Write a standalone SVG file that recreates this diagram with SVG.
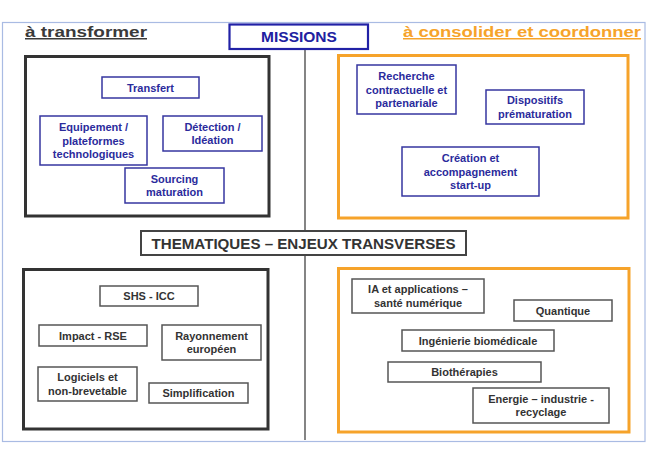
<svg xmlns="http://www.w3.org/2000/svg" width="648" height="464" viewBox="0 0 648 464">
<style>
text{font-family:"Liberation Sans",Arial,sans-serif;font-weight:bold;text-anchor:middle}
.frame{fill:none;stroke:#a9bbe3;stroke-width:1.2}
.blk{fill:#fff;stroke:#333;stroke-width:3}
.org{fill:#fff;stroke:#f6a32a;stroke-width:3}
.bb{fill:#fff;stroke:#3636a0;stroke-width:1.5}
.gb{fill:#fff;stroke:#555;stroke-width:1.5}
.bt{fill:#2b2b9c;font-size:11px}
.gt{fill:#333;font-size:11px}
.title{font-size:15px;text-decoration:underline;text-anchor:start}
</style>
<rect width="648" height="464" fill="#fff"/>
<rect class="frame" x="2.5" y="22.5" width="642.5" height="419"/>
<g id="connectors">
<line x1="305" y1="49" x2="305" y2="440" stroke="#666" stroke-width="1.6"/>
</g>
<g id="title-left"><text class="title" x="25" y="37" fill="#3a3a3a" textLength="122" lengthAdjust="spacingAndGlyphs">à transformer</text></g>
<g id="title-right"><text class="title" x="403" y="37" fill="#f6a32a" textLength="238" lengthAdjust="spacingAndGlyphs">à consolider et coordonner</text></g>
<g id="missions"><rect x="229.5" y="24.5" width="138.5" height="24.5" fill="#fff" stroke="#2121a6" stroke-width="2.2"/><text x="299" y="42" fill="#2121a0" font-size="15.5">MISSIONS</text></g>
<g id="box-transformer"><rect class="blk" x="25.5" y="56.5" width="243.5" height="159.5"/></g>
<g id="box-consolider"><rect class="org" x="338.5" y="55.5" width="289.5" height="162.5"/></g>
<g id="transfert"><rect class="bb" x="102" y="77" width="97" height="21"/><text class="bt" x="150.5" y="91.5">Transfert</text></g>
<g id="equipement"><rect class="bb" x="40" y="116" width="107" height="49"/><text class="bt" x="93.5" y="131">Equipement /</text><text class="bt" x="93.5" y="144.5">plateformes</text><text class="bt" x="93.5" y="158">technologiques</text></g>
<g id="detection"><rect class="bb" x="163" y="116" width="99" height="35"/><text class="bt" x="212.5" y="130.5">Détection /</text><text class="bt" x="212.5" y="144">Idéation</text></g>
<g id="sourcing"><rect class="bb" x="125" y="168" width="99" height="35"/><text class="bt" x="174.5" y="182.5">Sourcing</text><text class="bt" x="174.5" y="196">maturation</text></g>
<g id="recherche"><rect class="bb" x="357" y="65" width="99" height="49"/><text class="bt" x="406.5" y="80">Recherche</text><text class="bt" x="406.5" y="93.5">contractuelle et</text><text class="bt" x="406.5" y="107">partenariale</text></g>
<g id="dispositifs"><rect class="bb" x="486" y="90" width="98" height="34"/><text class="bt" x="535" y="104">Dispositifs</text><text class="bt" x="535" y="117.5">prématuration</text></g>
<g id="creation"><rect class="bb" x="402" y="147" width="137" height="49"/><text class="bt" x="470.5" y="162">Création et</text><text class="bt" x="470.5" y="175.5">accompagnement</text><text class="bt" x="470.5" y="189">start-up</text></g>
<g id="thematiques"><rect x="141" y="231" width="325" height="24" fill="#fff" stroke="#444" stroke-width="2"/><text x="303.5" y="248.5" fill="#333" font-size="15" textLength="304" lengthAdjust="spacingAndGlyphs">THEMATIQUES – ENJEUX TRANSVERSES</text></g>
<g id="box-them-left"><rect class="blk" x="23.5" y="269.5" width="244.5" height="159.5"/></g>
<g id="box-them-right"><rect class="org" x="338.5" y="268.5" width="290.5" height="163.5"/></g>
<g id="shs"><rect class="gb" x="100" y="286" width="98" height="20"/><text class="gt" x="149" y="300">SHS - ICC</text></g>
<g id="impact"><rect class="gb" x="39" y="325" width="108" height="21"/><text class="gt" x="93" y="339.5">Impact - RSE</text></g>
<g id="rayonnement"><rect class="gb" x="162" y="325" width="99" height="35"/><text class="gt" x="211.5" y="339.5">Rayonnement</text><text class="gt" x="211.5" y="353">européen</text></g>
<g id="logiciels"><rect class="gb" x="38" y="367" width="99" height="34"/><text class="gt" x="87.5" y="381">Logiciels et</text><text class="gt" x="87.5" y="394.5">non-brevetable</text></g>
<g id="simplification"><rect class="gb" x="149" y="383" width="99" height="20"/><text class="gt" x="198.5" y="397">Simplification</text></g>
<g id="ia"><rect class="gb" x="352" y="279" width="132" height="34"/><text class="gt" x="418" y="293">IA et applications  –</text><text class="gt" x="418" y="306.5">santé numérique</text></g>
<g id="quantique"><rect class="gb" x="514" y="300" width="98" height="21"/><text class="gt" x="563" y="314.5">Quantique</text></g>
<g id="ingenierie"><rect class="gb" x="402" y="330" width="152" height="21"/><text class="gt" x="478" y="344.5">Ingénierie biomédicale</text></g>
<g id="biotherapies"><rect class="gb" x="388" y="362" width="153" height="20"/><text class="gt" x="464.5" y="376">Biothérapies</text></g>
<g id="energie"><rect class="gb" x="473" y="388" width="136" height="35"/><text class="gt" x="541" y="402.5">Energie – industrie -</text><text class="gt" x="541" y="416">recyclage</text></g>
</svg>
